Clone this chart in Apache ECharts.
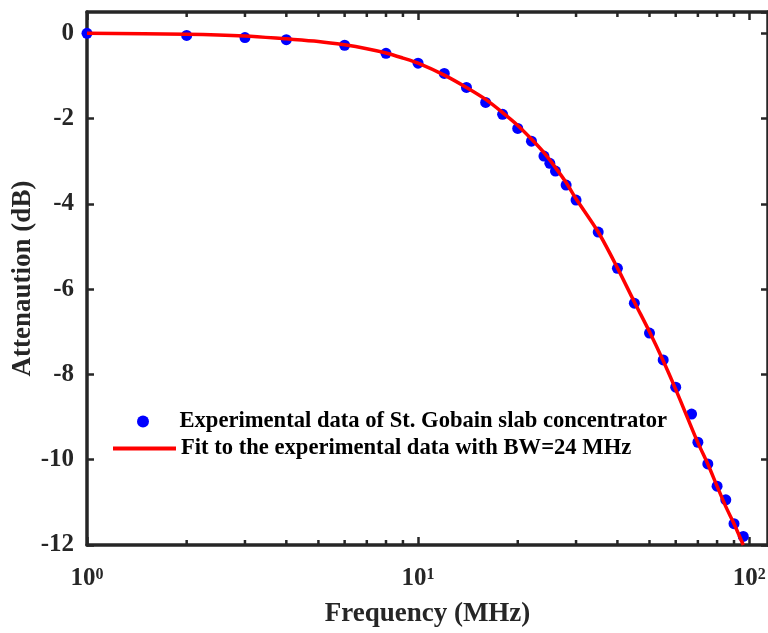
<!DOCTYPE html>
<html>
<head>
<meta charset="utf-8">
<script src="https://cdn.jsdelivr.net/npm/echarts@6/dist/echarts.min.js"></script>
<style>html,body{margin:0;padding:0;background:#fff}#c{width:768px;height:633px}</style>
</head>
<body>
<div id="c"></div>
<script>
// Experimental data (frequency in MHz, attenuation in dB)
var expFreq = [1, 2, 3, 4, 6, 8, 10, 12, 14, 16, 18, 20, 22, 24, 25, 26, 28, 30, 35, 40, 45, 50, 55, 60, 67, 70, 75, 80, 85, 90, 96];
var expAtt  = [0, -0.05, -0.1, -0.15, -0.28, -0.47, -0.70, -0.94, -1.27, -1.62, -1.90, -2.23, -2.53, -2.88, -3.05, -3.23, -3.56, -3.91, -4.66, -5.51, -6.33, -7.03, -7.66, -8.30, -8.93, -9.59, -10.1, -10.62, -10.94, -11.5, -11.8];
// Fit curve
var fitFreq = [1, 2, 3, 4, 5, 6, 7, 8, 9, 10, 12, 14, 16, 18, 20, 22, 24, 26, 28, 30, 35, 40, 45, 50, 55, 60, 65, 70, 75, 80, 85, 90, 96];
var fitAtt  = [0, -0.02, -0.06, -0.13, -0.19, -0.27, -0.36, -0.46, -0.58, -0.70, -0.98, -1.27, -1.55, -1.86, -2.16, -2.48, -2.80, -3.15, -3.50, -3.88, -4.66, -5.50, -6.30, -7.00, -7.68, -8.35, -9.00, -9.60, -10.10, -10.62, -11.10, -11.50, -12.0];
// Axis ticks
var yTicks = [-12, -10, -8, -6, -4, -2, 0];
var minorTicks = [2, 3, 4, 5, 6, 7, 8, 9, 20, 30, 40, 50, 60, 70, 80, 90];
var legendNames = ['Experimental data of St. Gobain slab concentrator', 'Fit to the experimental data with BW=24 MHz'];

var FONT = '"Liberation Serif", "Times New Roman", serif';
var TXT = '#262626';
var X_MIN = 1, X_MAX = 114, Y_MIN = -12, Y_MAX = 0.5;

function zip(a, b) { return a.map(function (v, i) { return [v, b[i]]; }); }

var axisLineStyle = { color: '#262626', width: 3.5 };
var legendText = { fontFamily: FONT, fontWeight: 'bold', fontSize: 22.6, color: '#000' };

var chart = echarts.init(document.getElementById('c'));
chart.setOption({
  animation: false,
  backgroundColor: '#ffffff',
  grid: { left: 87, right: 0, top: 12, bottom: 88, containLabel: false, outerBoundsMode: 'none' },
  legend: [{
    id: 'lgA',
    orient: 'vertical',
    align: 'left',
    left: 132,
    top: 405,
    padding: 5,
    itemWidth: 63,
    itemHeight: 12,
    data: [{ name: legendNames[0] }],
    textStyle: legendText
  }, {
    id: 'lgB',
    orient: 'vertical',
    align: 'left',
    left: 108,
    top: 432,
    padding: 5,
    itemWidth: 63,
    itemHeight: 4,
    data: [{ name: legendNames[1], icon: 'rect', itemStyle: { color: '#ff0000' } }],
    textStyle: legendText
  }],
  xAxis: [{
    type: 'log', logBase: 10, min: X_MIN, max: X_MAX,
    name: 'Frequency (MHz)', nameLocation: 'middle', nameGap: 56, nameMoveOverlap: false,
    nameTextStyle: { fontFamily: FONT, fontWeight: 'bold', fontSize: 27, color: TXT },
    axisLine: { show: true, onZero: false, lineStyle: axisLineStyle },
    axisTick: { show: true, inside: true, length: 8, lineStyle: { color: '#262626', width: 2.5 } },
    splitLine: { show: false },
    axisLabel: {
      margin: 22, showMaxLabel: false,
      formatter: function (v) { return '{b|10}{s|' + Math.round(Math.log10(v)) + '}'; },
      rich: {
        b: { fontFamily: FONT, fontWeight: 'bold', fontSize: 25, color: TXT, lineHeight: 24 },
        s: { fontFamily: FONT, fontWeight: 'bold', fontSize: 16, color: TXT, verticalAlign: 'top', lineHeight: 24 }
      }
    }
  }, {
    type: 'log', logBase: 10, min: X_MIN, max: X_MAX, position: 'top',
    axisLine: { show: true, onZero: false, lineStyle: axisLineStyle },
    axisTick: { show: true, inside: true, length: 8, lineStyle: { color: '#262626', width: 2.5 } },
    axisLabel: { show: false }, splitLine: { show: false }
  }],
  yAxis: [{
    type: 'value', min: Y_MIN, max: Y_MAX, interval: 2,
    name: 'Attenaution (dB)', nameLocation: 'middle', nameGap: 50, nameRotate: 90, nameMoveOverlap: false,
    nameTextStyle: { fontFamily: FONT, fontWeight: 'bold', fontSize: 27, color: TXT },
    axisLine: { show: true, onZero: false, lineStyle: axisLineStyle },
    axisTick: { show: true, inside: true, length: 7, lineStyle: { color: '#262626', width: 2.5 } },
    splitLine: { show: false },
    axisLabel: {
      margin: 13, showMaxLabel: false,
      fontFamily: FONT, fontWeight: 'bold', fontSize: 25, color: TXT,
      formatter: function (v) { return yTicks.indexOf(v) >= 0 ? String(v) : ''; }
    }
  }, {
    type: 'value', min: Y_MIN, max: Y_MAX, interval: 2, position: 'right',
    axisLine: { show: true, onZero: false, lineStyle: axisLineStyle },
    axisTick: { show: true, inside: true, length: 7, lineStyle: { color: '#262626', width: 2.5 } },
    axisLabel: { show: false }, splitLine: { show: false }
  }],
  series: [{
    type: 'custom',
    silent: true,
    xAxisIndex: 0, yAxisIndex: 0,
    clip: false,
    data: minorTicks.map(function (v) { return [v]; }),
    renderItem: function (params, api) {
      var bot = api.coord([api.value(0), Y_MIN]);
      var top = api.coord([api.value(0), Y_MAX]);
      var st = { stroke: '#262626', lineWidth: 2.5 };
      return {
        type: 'group',
        children: [
          { type: 'line', shape: { x1: bot[0], y1: bot[1], x2: bot[0], y2: bot[1] - 5 }, style: st },
          { type: 'line', shape: { x1: top[0], y1: top[1], x2: top[0], y2: top[1] + 5 }, style: st }
        ]
      };
    },
    z: 1
  }, {
    name: legendNames[0],
    type: 'scatter',
    data: zip(expFreq, expAtt),
    symbol: 'circle',
    symbolSize: 11,
    itemStyle: { color: '#0000ff', opacity: 1 },
    z: 3
  }, {
    name: legendNames[1],
    type: 'line',
    data: zip(fitFreq, fitAtt),
    smooth: 0.3,
    symbol: 'none',
    showSymbol: false,
    lineStyle: { color: '#ff0000', width: 3.5 },
    itemStyle: { color: '#ff0000' },
    z: 4
  }]
});
</script>
</body>
</html>
